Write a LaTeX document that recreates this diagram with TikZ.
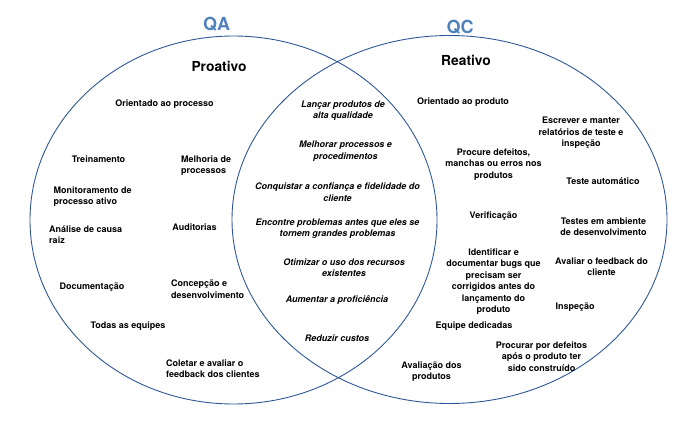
\documentclass[tikz,border=0pt]{standalone}
\usepackage{fontspec}
\setmainfont{TeX Gyre Heros}
\usetikzlibrary{positioning}
\definecolor{ringblue}{RGB}{47,87,150}
\definecolor{titleblue}{RGB}{79,129,189}
\tikzset{
ring/.style={draw=ringblue, line width=0.9pt},
settitle/.style={font=\fontsize{18}{20}\selectfont\bfseries, text=titleblue},
side/.style={font=\fontsize{13.8}{16}\selectfont\bfseries},
item/.style={align=center},
litem/.style={align=left, anchor=west},
shared/.style={align=center, font=\fontsize{9}{11.5}\selectfont\bfseries\itshape},
}
\tikzstyle{every node}=[font=\fontsize{9}{11.5}\selectfont\bfseries, inner sep=0pt]

\begin{document}
\begin{tikzpicture}[x=1pt,y=-1pt]
    \useasboundingbox (0,0) rectangle (700,427);
    % the two sets
    \draw[ring] (233.5,220) ellipse [x radius=203.5, y radius=184];
    \draw[ring] (449.5,219.5) ellipse [x radius=217.5, y radius=184];
    \node[settitle] (qa) at (216.5,24) {QA};
    \node[settitle] (qc) at (460,27.5) {QC};
    \node[side] (proativo) at (219,66) {Proativo};
    \node[side] (reativo) at (466,60) {Reativo};

    % QA only
    \node[item] (orientProc) at (164.5,104.5) {Orientado ao processo};
    \node[item] (treino) at (98.5,159) {Treinamento};
    \node[litem] (melhoria) at (181,165.5) {Melhoria de\\processos};
    \node[litem] (monitor) at (53.5,196.5) {Monitoramento de\\processo ativo};
    \node[litem] (analise) at (49,234.5) {Análise de causa\\raiz};
    \node[item] (auditorias) at (194.5,227) {Auditorias};
    \node[item] (docum) at (92,287.5) {Documentação};
    \node[litem] (concepcao) at (171,289) {Concepção e\\desenvolvimento};
    \node[item] (equipes) at (128,326.5) {Todas as equipes};
    \node[litem] (coletar) at (166,368.5) {Coletar e avaliar o\\feedback dos clientes};

    % QA and QC
    \node[shared] (lancar) at (343,110.5) {Lançar produtos de\\alta qualidade};
    \node[shared] (melhorar) at (345.5,151) {Melhorar processos e\\procedimentos};
    \node[shared] (conquistar) at (337.5,192) {Conquistar a confiança e fidelidade do\\cliente};
    \node[shared] (encontre) at (337.5,228.5) {Encontre problemas antes que eles se\\tornem grandes problemas};
    \node[shared] (otimizar) at (344,267.5) {Otimizar o uso dos recursos\\existentes};
    \node[shared] (aumentar) at (337,300.5) {Aumentar a proficiência};
    \node[shared] (reduzir) at (337,338) {Reduzir custos};

    % QC only
    \node[item] (orientProd) at (463,102.5) {Orientado ao produto};
    \node[item] (escrever) at (581,133) {Escrever e manter\\relatórios de teste e\\inspeção};
    \node[item] (procure) at (493.5,164.5) {Procure defeitos,\\manchas ou erros nos\\produtos};
    \node[item] (automatico) at (603,181.5) {Teste automático};
    \node[item] (verificacao) at (493.5,216.5) {Verificação};
    \node[item] (testes) at (603.5,226.5) {Testes em ambiente\\de desenvolvimento};
    \node[item] (identificar) at (493.5,281.5) {Identificar e\\documentar bugs que\\precisam ser\\corrigidos antes do\\lançamento do\\produto};
    \node[item] (avaliarFb) at (601.5,266.5) {Avaliar o feedback do\\cliente};
    \node[item] (inspecao) at (575,307) {Inspeção};
    \node[item] (dedicadas) at (474,326) {Equipe dedicadas};
    \node[item] (procurar) at (541.5,356.5) {Procurar por defeitos\\após o produto ter\\sido construído};
    \node[item] (avaliacao) at (431.5,371.5) {Avaliação dos\\produtos};
\end{tikzpicture}
\end{document}
